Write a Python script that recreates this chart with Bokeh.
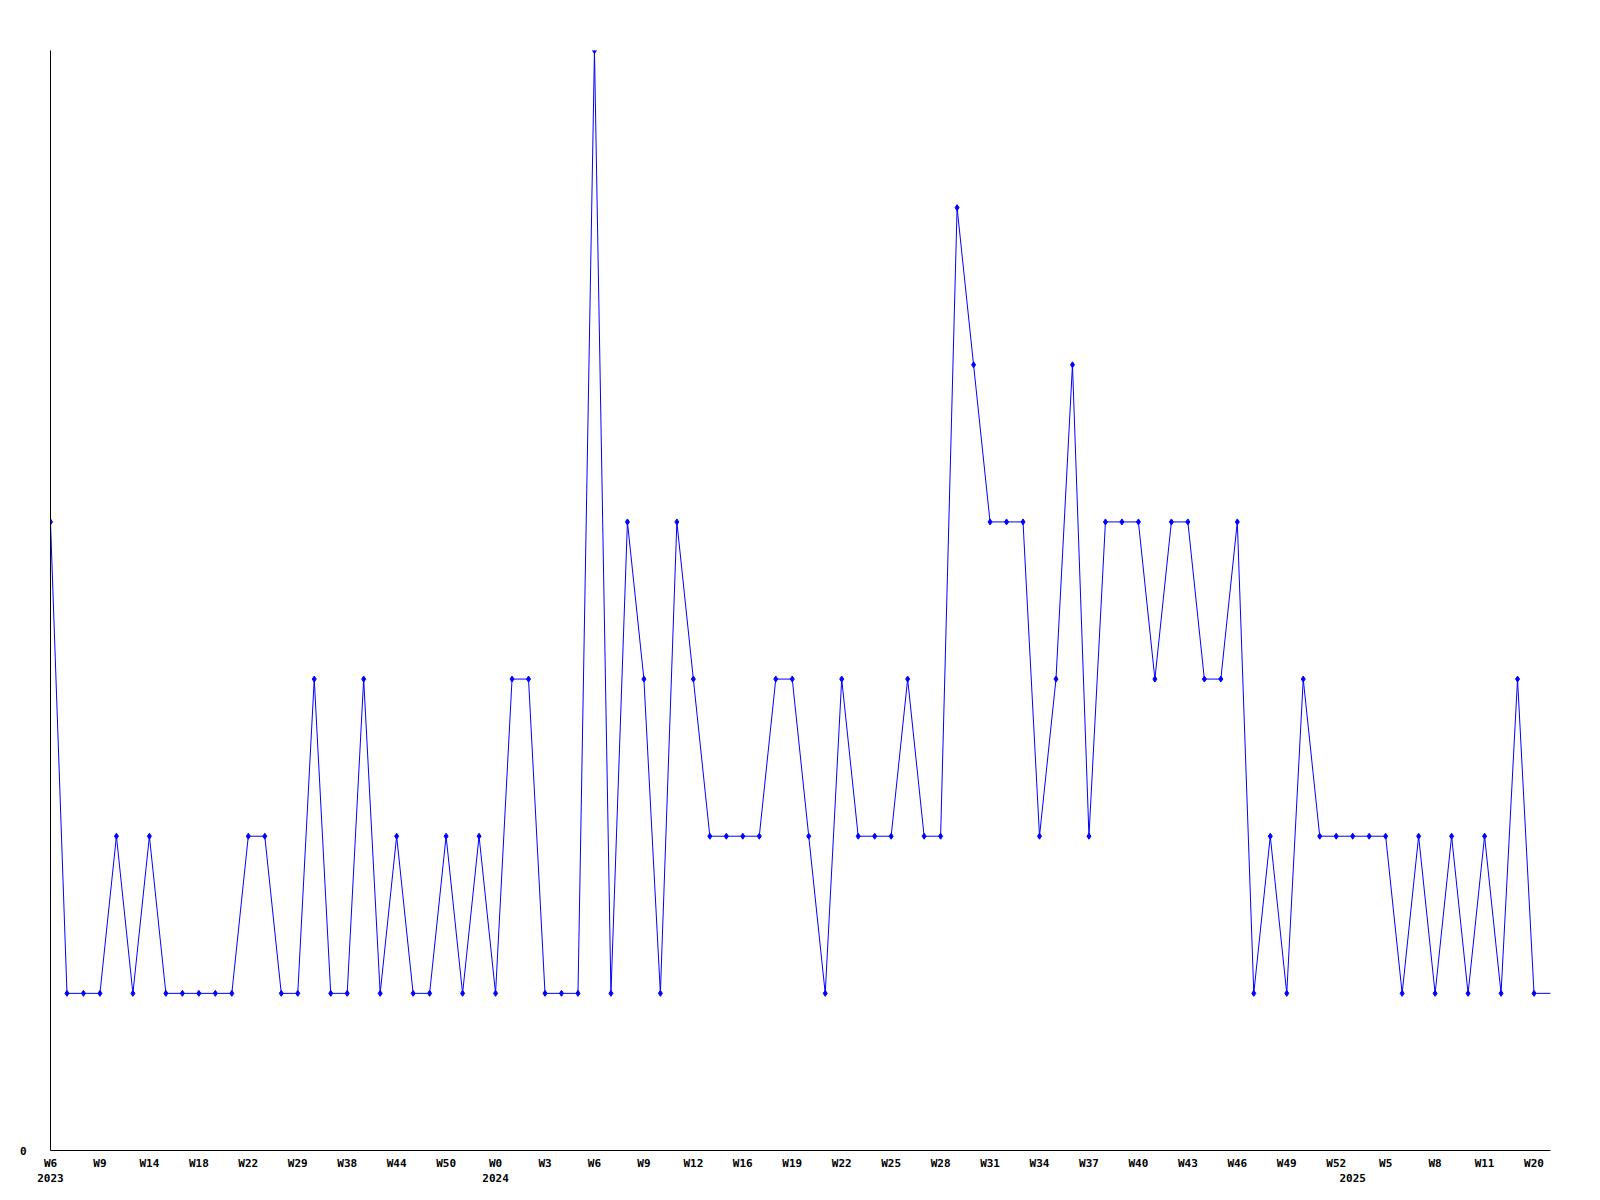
from bokeh.plotting import figure
from bokeh.models import ColumnDataSource, FixedTicker, LinearAxis, Range1d
from bokeh.embed import file_html
from bokeh.resources import INLINE

# Weekly counts (one value per week, W6 2023 .. W21 2025)
values = [4, 1, 1, 1, 2, 1, 2, 1, 1, 1, 1, 1, 2, 2, 1, 1, 3, 1, 1, 3,
          1, 2, 1, 1, 2, 1, 2, 1, 3, 3, 1, 1, 1, 7, 1, 4, 3, 1, 4, 3,
          2, 2, 2, 2, 3, 3, 2, 1, 3, 2, 2, 2, 3, 2, 2, 6, 5, 4, 4, 4,
          2, 3, 5, 2, 4, 4, 4, 3, 4, 4, 3, 3, 4, 1, 2, 1, 3, 2, 2, 2,
          2, 2, 1, 2, 1, 2, 1, 2, 1, 3, 1, 1]

tick_labels = ["W6", "W9", "W14", "W18", "W22", "W29", "W38", "W44", "W50",
               "W0", "W3", "W6", "W9", "W12", "W16", "W19", "W22", "W25",
               "W28", "W31", "W34", "W37", "W40", "W43", "W46", "W49",
               "W52", "W5", "W8", "W11", "W20"]
tick_step = 3

years = ["2023", "2024", "2025"]
year_index = [0, 27, 79]

x = list(range(len(values)))
tick_pos = [i * tick_step for i in range(len(tick_labels))]

FONT = "DejaVu Sans Mono"
FSIZE = "11px"

p = figure(width=1592, height=1192, output_backend="svg", toolbar_location=None,
           x_range=Range1d(0, len(values) - 1), y_range=Range1d(0, max(values)),
           min_border_left=50, min_border_right=42, min_border_top=50,
           min_border_bottom=42)
p.outline_line_color = None
p.xgrid.visible = False
p.ygrid.visible = False
p.background_fill_color = "white"
p.border_fill_color = "white"

src = ColumnDataSource(dict(x=x, y=values))
mk = ColumnDataSource(dict(x=x[:-1], y=values[:-1]))
p.line("x", "y", source=src, line_color="#0000FF", line_width=1)
p.scatter("x", "y", source=mk, marker="diamond", size=6,
          fill_color="#0000FF", line_color="#0000FF")


def style_axis(ax, standoff):
    ax.major_tick_out = 0
    ax.major_tick_in = 0
    ax.minor_tick_out = 0
    ax.minor_tick_in = 0
    ax.major_label_standoff = standoff
    ax.major_label_text_font = FONT
    ax.major_label_text_font_style = "bold"
    ax.major_label_text_font_size = FSIZE
    ax.major_label_text_color = "black"


xa = p.xaxis[0]
xa.ticker = FixedTicker(ticks=tick_pos)
xa.major_label_overrides = {t: l for t, l in zip(tick_pos, tick_labels)}
style_axis(xa, 6)
xa.axis_line_color = "black"

ya = p.yaxis[0]
ya.ticker = FixedTicker(ticks=[0])
style_axis(ya, 24)
ya.axis_line_color = "black"

yr_axis = LinearAxis(ticker=FixedTicker(ticks=year_index),
                     major_label_overrides={t: l for t, l in zip(year_index, years)})
style_axis(yr_axis, 1)
yr_axis.axis_line_color = None
p.add_layout(yr_axis, "below")

open("out.html", "w").write(file_html(p, INLINE))
